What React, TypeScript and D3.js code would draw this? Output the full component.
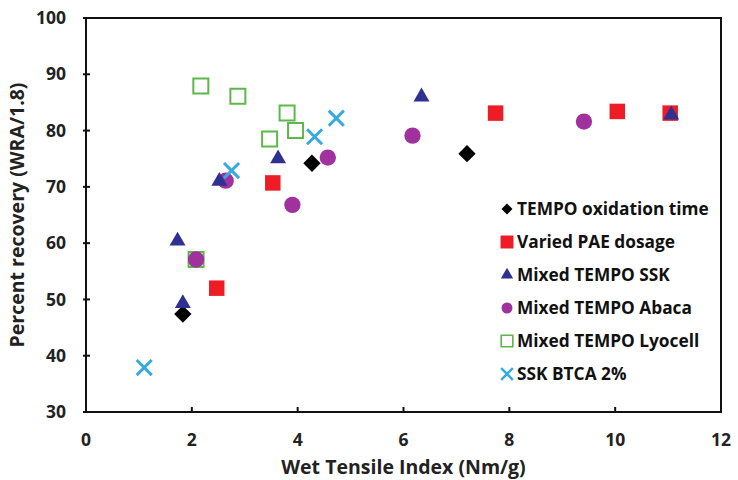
import * as d3 from 'd3';

// series names, colours and values
const seriesNames = [
	'TEMPO oxidation time',
	'Varied PAE dosage',
	'Mixed TEMPO SSK',
	'Mixed TEMPO Abaca',
	'Mixed TEMPO Lyocell',
	'SSK BTCA 2%',
];

const tempoX = [1.83, 4.27, 7.2];
const tempoY = [47.4, 74.2, 75.9];

const paeX = [2.47, 3.53, 7.74, 10.04, 11.04];
const paeY = [52.0, 70.7, 83.1, 83.4, 83.1];

const sskX = [1.73, 1.83, 2.52, 3.63, 6.34, 11.06];
const sskY = [60.4, 49.3, 71.0, 75.0, 86.0, 82.8];

const abacaX = [2.08, 2.64, 3.9, 4.57, 6.17, 9.41];
const abacaY = [57.1, 71.1, 66.8, 75.2, 79.1, 81.6];

const lyocellX = [2.17, 2.87, 3.47, 3.8, 3.96, 2.08];
const lyocellY = [87.9, 86.1, 78.5, 83.1, 80.0, 57.1];

const btcaX = [1.1, 2.75, 4.32, 4.73];
const btcaY = [37.9, 72.9, 78.9, 82.2];

const xTicks = [0, 2, 4, 6, 8, 10, 12];
const yTicks = [30, 40, 50, 60, 70, 80, 90, 100];

const W = 738;
const H = 480;
const margin = { top: 18, right: 15, bottom: 68, left: 86 };
const font = '"Open Sans", "DejaVu Sans", sans-serif';

type Style = {
	symbol: d3.SymbolType;
	size: number;
	legendScale: number;
	fill: string;
	stroke: string;
	strokeWidth: number;
	rotate: number;
};

const styles: Style[] = [
	{ symbol: d3.symbolSquare, size: 150, legendScale: 0.4, fill: '#000000', stroke: 'none', strokeWidth: 0, rotate: 45 },
	{ symbol: d3.symbolSquare, size: 240, legendScale: 0.7, fill: '#ee1c25', stroke: 'none', strokeWidth: 0, rotate: 0 },
	{ symbol: d3.symbolTriangle, size: 110, legendScale: 0.6, fill: '#2e3192', stroke: 'none', strokeWidth: 0, rotate: 0 },
	{ symbol: d3.symbolCircle, size: 210, legendScale: 0.45, fill: '#a0329e', stroke: 'none', strokeWidth: 0, rotate: 0 },
	{ symbol: d3.symbolSquare, size: 225, legendScale: 0.6, fill: 'none', stroke: '#5cb84a', strokeWidth: 2, rotate: 0 },
	{ symbol: d3.symbolTimes, size: 150, legendScale: 0.6, fill: 'none', stroke: '#36a9e1', strokeWidth: 3, rotate: 0 },
];

const allSeries = [
	{ xs: tempoX, ys: tempoY },
	{ xs: paeX, ys: paeY },
	{ xs: sskX, ys: sskY },
	{ xs: abacaX, ys: abacaY },
	{ xs: lyocellX, ys: lyocellY },
	{ xs: btcaX, ys: btcaY },
];

export default function App() {
	const x = d3.scaleLinear().domain([0, 12]).range([margin.left, W - margin.right - 2]);
	const y = d3.scaleLinear().domain([30, 100]).range([H - margin.bottom, margin.top]);

	const path = (s: Style, scale = 1) => d3.symbol(s.symbol, s.size * scale)()!;

	// abaca drawn over the open lyocell squares
	const order = [0, 1, 4, 3, 2, 5];

	return (
		<svg width={W} height={H} style={{ position: 'absolute', left: 0, top: 0, background: '#fff' }}>
			{/* plot frame */}
			<rect
				x={x(0)}
				y={y(100)}
				width={x(12) - x(0)}
				height={y(30) - y(100)}
				fill="none"
				stroke="#111"
				strokeWidth={2}
			/>

			{/* y axis ticks and labels */}
			{yTicks.map((t) => (
				<g key={'y' + t}>
					<line x1={x(0) - 3} x2={x(0) + 4} y1={y(t)} y2={y(t)} stroke="#111" strokeWidth={2} />
					<text
						x={x(0) - 20}
						y={y(t)}
						dy="0.35em"
						textAnchor="end"
						fontFamily={font}
						fontWeight={700}
						fontSize={17.5}
						fill="#222"
					>
						{t}
					</text>
				</g>
			))}

			{/* x axis ticks and labels */}
			{xTicks.map((t) => (
				<g key={'x' + t}>
					<line x1={x(t)} x2={x(t)} y1={y(30)} y2={y(30) - 5} stroke="#111" strokeWidth={2} />
					<text
						x={x(t)}
						y={y(30) + 28}
						dy="0.35em"
						textAnchor="middle"
						fontFamily={font}
						fontWeight={700}
						fontSize={17.5}
						fill="#222"
					>
						{t}
					</text>
				</g>
			))}

			{/* axis titles */}
			<text
				x={(x(0) + x(12)) / 2}
				y={H - 6}
				textAnchor="middle"
				fontFamily={font}
				fontWeight={700}
				fontSize={19.5}
				fill="#222"
			>
				Wet Tensile Index (Nm/g)
			</text>
			<text
				transform={`translate(24, ${(y(30) + y(100)) / 2}) rotate(-90)`}
				textAnchor="middle"
				fontFamily={font}
				fontWeight={700}
				fontSize={19.5}
				fill="#222"
			>
				Percent recovery (WRA/1.8)
			</text>

			{/* legend */}
			<rect x={496} y={193} width={224} height={198} fill="#fff" />
			{seriesNames.map((name, i) => {
				const s = styles[i];
				const ly = 209 + i * 33;
				return (
					<g key={name}>
						<path
							d={path(s, s.legendScale)}
							transform={`translate(507, ${ly}) rotate(${s.rotate})`}
							fill={s.fill}
							stroke={s.stroke}
							strokeWidth={s.strokeWidth * 0.8}
						/>
						<text
							x={517}
							y={ly}
							dy="0.35em"
							fontFamily={font}
							fontWeight={700}
							fontSize={17.3}
							fill="#111"
						>
							{name}
						</text>
					</g>
				);
			})}

			{/* points */}
			{order.map((si) => {
				const s = styles[si];
				const ser = allSeries[si];
				return (
					<g key={'s' + si}>
						{ser.xs.map((v, j) => (
							<path
								key={j}
								d={path(s)}
								transform={`translate(${x(v)}, ${y(ser.ys[j])}) rotate(${s.rotate})`}
								fill={s.fill}
								stroke={s.stroke}
								strokeWidth={s.strokeWidth}
							/>
						))}
					</g>
				);
			})}
		</svg>
	);
}
